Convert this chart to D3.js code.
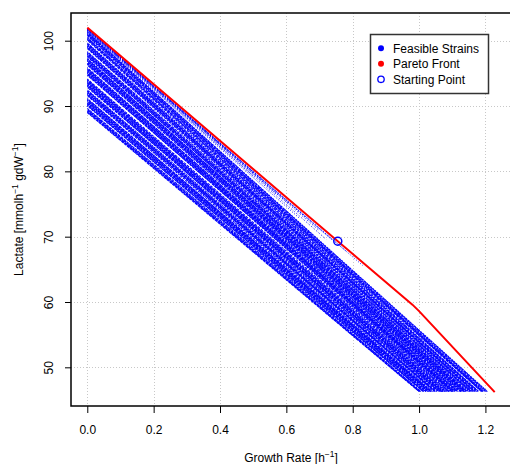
<!DOCTYPE html>
<html>
<head>
<meta charset="utf-8">
<script src="https://cdn.jsdelivr.net/npm/d3@7"></script>
<style>
  html, body { margin: 0; padding: 0; background: #fff; }
  svg { display: block; font-family: "Liberation Sans", Arial, Helvetica, sans-serif; }
</style>
</head>
<body>
<svg id="chart" width="510" height="464"></svg>
<script>
// Feasible strains: lactate at zero growth and the growth rate where each envelope stops
const strainLactate0 = [
  89.00, 89.12, 89.25, 89.38, 89.50, 89.63, 90.02, 90.15, 90.28, 90.40,
  90.53, 90.66, 90.78, 90.90, 91.03, 91.15, 91.58, 91.70, 91.83, 91.96,
  92.08, 92.21, 92.34, 92.46, 92.87, 93.00, 93.12, 93.25, 93.38, 93.50,
  93.63, 93.76, 93.88, 94.01, 94.14, 94.72, 94.85, 94.97, 95.10, 95.23,
  95.35, 95.48, 95.61, 95.73, 95.86, 96.27, 96.40, 96.52, 96.65, 96.78,
  96.90, 97.03, 97.16, 97.28, 97.55, 97.68, 97.81, 97.94, 98.06, 98.19,
  98.32, 98.79, 98.92, 99.04, 99.17, 99.30, 99.43, 99.55, 99.68, 100.08,
  100.21, 100.33, 100.46, 100.72, 100.85, 100.98, 101.10, 101.22, 101.34
];
const strainGrowthMax = [
  1.000, 1.006, 1.001, 1.012, 1.004, 1.015, 1.021, 1.014, 1.026, 1.019,
  1.031, 1.022, 1.035, 1.027, 1.038, 1.031, 1.036, 1.050, 1.041, 1.054,
  1.046, 1.058, 1.049, 1.062, 1.069, 1.060, 1.072, 1.065, 1.077, 1.068,
  1.081, 1.073, 1.085, 1.077, 1.089, 1.098, 1.090, 1.103, 1.094, 1.107,
  1.099, 1.111, 1.103, 1.116, 1.107, 1.114, 1.126, 1.118, 1.130, 1.122,
  1.134, 1.126, 1.138, 1.130, 1.144, 1.136, 1.149, 1.141, 1.153, 1.145,
  1.157, 1.155, 1.167, 1.159, 1.171, 1.163, 1.175, 1.167, 1.179, 1.176,
  1.188, 1.180, 1.192, 1.196, 1.189, 1.200, 1.193, 1.204, 1.206
];
const strainLactateMin = 46.3;

// Strains whose envelopes stop early, close to the front: [lactate at 0, growth end, lactate end]
const shortStrains = [
  [101.75, 0.38, 85.2], [101.60, 0.42, 83.2], [101.70, 0.46, 81.6],
  [101.50, 0.50, 79.3], [101.80, 0.53, 78.6], [101.60, 0.57, 76.5],
  [101.70, 0.61, 74.9], [101.80, 0.66, 72.9], [101.60, 0.70, 70.9],
  [101.75, 0.74, 69.4], [101.80, 0.78, 67.8], [101.70, 0.83, 65.6],
  [101.50, 0.72, 69.6], [101.40, 0.64, 72.8]
];

// Pareto front
const paretoGrowth  = [0.000, 0.755, 0.980, 1.000, 1.228];
const paretoLactate = [102.0, 69.3, 59.6, 58.6, 46.2];

// Starting point
const startGrowth = 0.755, startLactate = 69.3;

// Axis ticks and labels
const xTicks = [0, 0.2, 0.4, 0.6, 0.8, 1.0, 1.2];
const yTicks = [50, 60, 70, 80, 90, 100];
const legendLabels = ["Feasible Strains", "Pareto Front", "Starting Point"];

(function draw() {
  const svg = d3.select("#chart");
  const pL = 71, pR = 511, pT = 13, pB = 406;

  const x = d3.scaleLinear().domain([-0.0491, 1.2771]).range([pL, pR]);
  const y = d3.scaleLinear().domain([44.08, 104.24]).range([pB, pT]);

  // grid
  const grid = svg.append("g").attr("stroke", "#c8c8c8").attr("stroke-width", 1)
    .attr("stroke-dasharray", "1,2");
  grid.selectAll("line.gx").data(xTicks).join("line").attr("class", "gx")
    .attr("x1", d => Math.round(x(d)) + 0.5).attr("x2", d => Math.round(x(d)) + 0.5)
    .attr("y1", pT).attr("y2", pB);
  grid.selectAll("line.gy").data(yTicks).join("line").attr("class", "gy")
    .attr("y1", d => Math.round(y(d)) + 0.5).attr("y2", d => Math.round(y(d)) + 0.5)
    .attr("x1", pL).attr("x2", pR);

  // feasible strains, drawn as runs of small dots
  const line = d3.line().x(d => x(d[0])).y(d => y(d[1]));
  const strains = strainLactate0.map((a, i) => [[0, a], [strainGrowthMax[i], strainLactateMin]]);
  const dashes = ["3,0.7", "2.4,0.9", "3.6,0.6", "2,0.8", "2.8,1.1"];
  svg.append("g").selectAll("path").data(strains).join("path")
    .attr("d", line)
    .attr("fill", "none")
    .attr("stroke", "#0000ff")
    .attr("stroke-width", 1.05)
    .attr("stroke-dasharray", (d, i) => dashes[i % dashes.length])
    .attr("stroke-dashoffset", (d, i) => (i * 0.73) % 3);

  svg.append("g").selectAll("path").data(shortStrains.map(s => [[0, s[0]], [s[1], s[2]]])).join("path")
    .attr("d", line)
    .attr("fill", "none")
    .attr("stroke", "#0000ff")
    .attr("stroke-width", 0.9)
    .attr("stroke-opacity", 0.85)
    .attr("stroke-dasharray", (d, i) => i % 2 ? "1.2,1.5" : "1.5,1.8");

  // Pareto front
  svg.append("path")
    .attr("d", line(paretoGrowth.map((g, i) => [g, paretoLactate[i]])))
    .attr("fill", "none").attr("stroke", "#ff0000").attr("stroke-width", 2);

  // starting point
  svg.append("circle")
    .attr("cx", x(startGrowth)).attr("cy", y(startLactate)).attr("r", 4)
    .attr("fill", "none").attr("stroke", "#0000ff").attr("stroke-width", 1.5);

  // plot frame
  svg.append("rect").attr("x", pL).attr("y", pT)
    .attr("width", pR - pL).attr("height", pB - pT)
    .attr("fill", "none").attr("stroke", "#000").attr("stroke-width", 1.5);

  // x axis
  const xAxis = svg.append("g").attr("transform", `translate(0,${pB})`)
    .call(d3.axisBottom(x).tickValues(xTicks).tickFormat(d3.format(".1f")).tickSize(7).tickPadding(12));
  xAxis.select(".domain").remove();
  xAxis.selectAll("text").attr("font-size", 12).attr("fill", "#000")
    .attr("font-family", "'Liberation Sans', Arial, sans-serif");
  xAxis.selectAll("line").attr("stroke", "#000");

  // y axis
  const yAxis = svg.append("g").attr("transform", `translate(${pL},0)`)
    .call(d3.axisLeft(y).tickValues(yTicks).tickSize(6).tickFormat(d3.format("d")));
  yAxis.select(".domain").remove();
  yAxis.selectAll("line").attr("stroke", "#000");
  yAxis.selectAll("text").attr("font-size", 12).attr("fill", "#000")
    .attr("font-family", "'Liberation Sans', Arial, sans-serif")
    .attr("x", null).attr("dy", null)
    .attr("text-anchor", "middle")
    .attr("transform", "translate(-18,0) rotate(-90)");

  // axis titles
  const xt = svg.append("text").attr("x", (pL + pR) / 2).attr("y", 462)
    .attr("text-anchor", "middle").attr("font-size", 12);
  xt.append("tspan").text("Growth Rate [h");
  xt.append("tspan").attr("font-size", 8.5).attr("dy", -5).text("\u22121");
  xt.append("tspan").attr("dy", 5).text("]");

  const yt = svg.append("text")
    .attr("transform", `translate(23,${(pT + pB) / 2}) rotate(-90)`)
    .attr("text-anchor", "middle").attr("font-size", 12);
  yt.append("tspan").text("Lactate [mmolh");
  yt.append("tspan").attr("font-size", 8.5).attr("dy", -5).text("\u22121");
  yt.append("tspan").attr("dy", 5).text(" gdW");
  yt.append("tspan").attr("font-size", 8.5).attr("dy", -5).text("\u22121");
  yt.append("tspan").attr("dy", 5).text("]");

  // legend
  const lg = svg.append("g");
  lg.append("rect").attr("x", 370.5).attr("y", 34.5).attr("width", 118).attr("height", 59)
    .attr("fill", "#fff").attr("stroke", "#333").attr("stroke-width", 1.5);
  const rows = lg.selectAll("g").data(legendLabels).join("g")
    .attr("transform", (d, i) => `translate(381,${48.3 + i * 15.5})`);
  rows.append("circle").attr("r", (d, i) => i === 2 ? 3.2 : 3)
    .attr("fill", (d, i) => i === 0 ? "#0000ff" : i === 1 ? "#ff0000" : "none")
    .attr("stroke", (d, i) => i === 2 ? "#0000ff" : "none")
    .attr("stroke-width", 1.3);
  rows.append("text").attr("x", 12).attr("dy", "0.36em").attr("font-size", 12).text(d => d);
})();
</script>
</body>
</html>
